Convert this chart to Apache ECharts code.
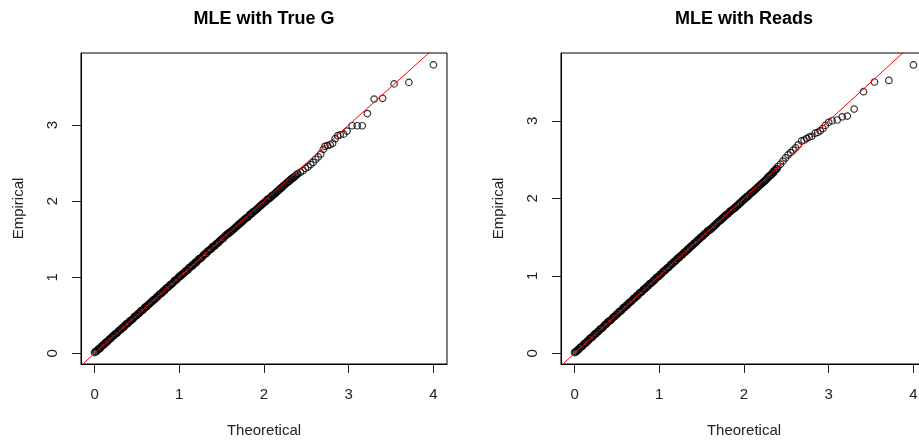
<!DOCTYPE html>
<html>
<head>
<meta charset="utf-8">
<script src="https://cdn.jsdelivr.net/npm/echarts@6/dist/echarts.min.js"></script>
<style>
html,body{margin:0;padding:0;background:#fff;}
#chart{width:919px;height:444px;}
</style>
</head>
<body>
<div id="chart"></div>
<script>
// ---- data ----
const panelTitles = ['MLE with True G', 'MLE with Reads'];
const xLabel = 'Theoretical';
const yLabel = 'Empirical';
const xTicks = [0, 1, 2, 3, 4];
const yTicks = [0, 1, 2, 3];

// dense part of the sample (shared theoretical quantiles), first set
const theoDense = [
  0.00,0.02,0.04,0.06,0.08,0.10,0.12,0.14,0.16,0.18,
  0.20,0.22,0.24,0.26,0.28,0.30,0.32,0.34,0.36,0.38,
  0.40,0.42,0.44,0.46,0.48,0.50,0.52,0.54,0.56,0.58,
  0.60,0.62,0.64,0.66,0.68,0.70,0.72,0.74,0.76,0.78,
  0.80,0.82,0.84,0.86,0.88,0.90,0.92,0.94,0.96,0.98,
  1.00,1.02,1.04,1.06,1.08,1.10,1.12,1.14,1.16,1.18,
  1.20,1.22,1.24,1.26,1.28,1.30,1.32,1.34,1.36,1.38,
  1.40,1.42,1.44,1.46,1.48,1.50,1.52,1.54,1.56,1.58,
  1.60,1.62,1.64,1.66,1.68,1.70,1.72,1.74,1.76,1.78,
  1.80,1.82,1.84,1.86,1.88,1.90,1.92,1.94,1.96,1.98,
  2.00,2.02,2.04,2.06,2.08,2.10,2.12,2.14,2.16,2.18,
  2.20,2.22,2.24,2.26,2.28,2.30,2.32,2.34,2.36,2.38
];
const empLeftDense = [
  0.01,0.03,0.05,0.06,0.09,0.11,0.13,0.15,0.17,0.19,
  0.21,0.23,0.25,0.26,0.29,0.31,0.33,0.34,0.37,0.39,
  0.40,0.43,0.44,0.46,0.49,0.50,0.52,0.55,0.56,0.58,
  0.61,0.62,0.64,0.67,0.68,0.70,0.72,0.74,0.77,0.78,
  0.80,0.82,0.85,0.86,0.88,0.90,0.92,0.95,0.96,0.98,
  1.01,1.02,1.04,1.06,1.08,1.09,1.12,1.14,1.15,1.18,
  1.19,1.22,1.24,1.25,1.28,1.30,1.31,1.34,1.36,1.37,
  1.40,1.41,1.44,1.45,1.48,1.50,1.51,1.54,1.56,1.57,
  1.59,1.61,1.63,1.65,1.67,1.69,1.71,1.73,1.75,1.77,
  1.78,1.80,1.83,1.84,1.86,1.88,1.90,1.92,1.94,1.96,
  1.98,1.99,2.02,2.03,2.05,2.07,2.09,2.11,2.13,2.15,
  2.17,2.19,2.21,2.23,2.25,2.26,2.29,2.31,2.32,2.34
];
const empRightDense = [
  0.01,0.02,0.04,0.07,0.08,0.10,0.13,0.14,0.16,0.19,
  0.20,0.22,0.25,0.26,0.28,0.31,0.32,0.34,0.37,0.38,
  0.41,0.42,0.44,0.47,0.48,0.50,0.53,0.54,0.56,0.59,
  0.60,0.62,0.65,0.66,0.68,0.71,0.72,0.74,0.77,0.78,
  0.80,0.83,0.84,0.86,0.89,0.90,0.92,0.94,0.97,0.98,
  1.00,1.02,1.05,1.06,1.08,1.10,1.12,1.15,1.16,1.18,
  1.20,1.23,1.24,1.26,1.28,1.30,1.32,1.34,1.36,1.38,
  1.40,1.42,1.44,1.46,1.48,1.50,1.52,1.54,1.56,1.58,
  1.59,1.61,1.63,1.65,1.67,1.70,1.71,1.73,1.75,1.77,
  1.79,1.81,1.83,1.85,1.86,1.88,1.90,1.92,1.94,1.96,
  1.98,2.00,2.02,2.04,2.06,2.08,2.10,2.12,2.14,2.16,
  2.18,2.20,2.22,2.24,2.27,2.29,2.31,2.34,2.36,2.38
];

// dense part, second set (interleaved quantiles)
const theoDense2 = [
  0.01,0.03,0.05,0.07,0.09,0.11,0.13,0.15,0.17,0.19,
  0.21,0.23,0.25,0.27,0.29,0.31,0.33,0.35,0.37,0.39,
  0.41,0.43,0.45,0.47,0.49,0.51,0.53,0.55,0.57,0.59,
  0.61,0.63,0.65,0.67,0.69,0.71,0.73,0.75,0.77,0.79,
  0.81,0.83,0.85,0.87,0.89,0.91,0.93,0.95,0.97,0.99,
  1.01,1.03,1.05,1.07,1.09,1.11,1.13,1.15,1.17,1.19,
  1.21,1.23,1.25,1.27,1.29,1.31,1.33,1.35,1.37,1.39,
  1.41,1.43,1.45,1.47,1.49,1.51,1.53,1.55,1.57,1.59,
  1.61,1.63,1.65,1.67,1.69,1.71,1.73,1.75,1.77,1.79,
  1.81,1.83,1.85,1.87,1.89,1.91,1.93,1.95,1.97,1.99,
  2.01,2.03,2.05,2.07,2.09,2.11,2.13,2.15,2.17,2.19,
  2.21,2.23,2.25,2.27,2.29,2.31,2.33,2.35,2.37,2.39
];
const empLeftDense2 = [
  0.02,0.03,0.06,0.07,0.10,0.11,0.14,0.15,0.18,0.19,
  0.22,0.23,0.26,0.27,0.30,0.31,0.34,0.35,0.38,0.39,
  0.42,0.43,0.45,0.48,0.49,0.52,0.53,0.56,0.57,0.60,
  0.61,0.64,0.65,0.67,0.70,0.71,0.74,0.75,0.78,0.79,
  0.82,0.83,0.86,0.87,0.90,0.91,0.93,0.96,0.97,1.00,
  1.01,1.04,1.05,1.08,1.09,1.12,1.13,1.16,1.17,1.20,
  1.21,1.24,1.25,1.27,1.30,1.31,1.34,1.35,1.37,1.40,
  1.41,1.43,1.45,1.47,1.49,1.51,1.53,1.55,1.57,1.59,
  1.60,1.62,1.64,1.66,1.68,1.70,1.72,1.74,1.76,1.78,
  1.79,1.82,1.83,1.86,1.87,1.89,1.91,1.93,1.95,1.97,
  1.99,2.01,2.03,2.04,2.07,2.08,2.10,2.12,2.14,2.16,
  2.18,2.20,2.22,2.24,2.26,2.28,2.29,2.31,2.33,2.35
];
const empRightDense2 = [
  0.02,0.04,0.05,0.08,0.09,0.12,0.13,0.16,0.17,0.20,
  0.21,0.24,0.25,0.28,0.29,0.32,0.33,0.36,0.37,0.40,
  0.42,0.43,0.46,0.47,0.50,0.51,0.54,0.55,0.58,0.59,
  0.62,0.63,0.66,0.67,0.70,0.71,0.74,0.75,0.78,0.79,
  0.82,0.83,0.86,0.87,0.90,0.91,0.94,0.95,0.98,0.99,
  1.02,1.03,1.06,1.07,1.10,1.11,1.14,1.15,1.18,1.19,
  1.22,1.23,1.26,1.27,1.30,1.31,1.34,1.35,1.38,1.39,
  1.42,1.43,1.46,1.47,1.50,1.51,1.54,1.55,1.58,1.59,
  1.61,1.63,1.65,1.67,1.69,1.71,1.73,1.75,1.77,1.79,
  1.80,1.83,1.84,1.86,1.88,1.90,1.92,1.94,1.96,1.98,
  2.00,2.02,2.03,2.06,2.07,2.09,2.11,2.13,2.15,2.17,
  2.19,2.21,2.23,2.25,2.27,2.29,2.31,2.33,2.36,2.38
];

// upper tail, read point by point
const theoLeftTail = [2.40,2.43,2.46,2.49,2.52,2.55,2.58,2.61,2.64,2.67,2.70,2.72,2.75,2.78,2.81,2.84,2.87,2.90,2.94,2.98,3.04,3.10,3.16,3.22,3.30,3.40,3.535,3.71,4.00];
const empLeftTail  = [2.36,2.38,2.40,2.43,2.45,2.48,2.51,2.55,2.58,2.62,2.68,2.72,2.73,2.74,2.76,2.82,2.86,2.87,2.88,2.92,2.99,2.99,2.99,3.15,3.34,3.35,3.54,3.56,3.79];
const theoRightTail = [2.40,2.43,2.46,2.49,2.52,2.55,2.58,2.61,2.64,2.68,2.71,2.74,2.77,2.80,2.84,2.87,2.90,2.93,2.96,3.00,3.04,3.10,3.16,3.22,3.30,3.41,3.54,3.71,4.00];
const empRightTail  = [2.41,2.44,2.48,2.52,2.56,2.59,2.62,2.65,2.69,2.74,2.75,2.77,2.79,2.80,2.84,2.85,2.87,2.90,2.94,2.98,3.00,3.01,3.05,3.06,3.15,3.375,3.50,3.52,3.72];

// reference line y = x (extends past the axes, clipped by the plot area)
const refLine = [-1, 5];

// axis extents (R's 4% padding)
const xRange = [-0.16, 4.16];
const yRangeLeft = [-0.14, 3.946];
const yRangeRight = [-0.138, 3.874];

// ---- build ----
function zip(a, b) { return a.map((v, i) => [v, b[i]]); }
const leftPts = zip(theoDense, empLeftDense)
  .concat(zip(theoDense2, empLeftDense2))
  .concat(zip(theoLeftTail, empLeftTail));
const rightPts = zip(theoDense, empRightDense)
  .concat(zip(theoDense2, empRightDense2))
  .concat(zip(theoRightTail, empRightTail));
const linePts = refLine.map(v => [v, v]);

const FONT = '"Liberation Sans", Arial, sans-serif';
const grids = [
  { left: 81, top: 53, width: 366, height: 311 },
  { left: 561, top: 53, width: 366, height: 311 }
];
const titleCenters = [259, 739];
const yRanges = [yRangeLeft, yRangeRight];

const option = {
  animation: false,
  backgroundColor: '#ffffff',
  title: panelTitles.map((t, i) => ({
    text: t,
    left: titleCenters[i],
    top: 5,
    textAlign: 'center',
    textStyle: { fontFamily: FONT, fontSize: 18, fontWeight: 'bold', color: '#000' }
  })),
  grid: grids.map(g => Object.assign({
    show: true, borderColor: '#000', borderWidth: 1, backgroundColor: 'transparent',
    containLabel: false, outerBoundsMode: 'none'
  }, g)),
  xAxis: grids.map((g, i) => ({
    type: 'value', gridIndex: i, min: xRange[0], max: xRange[1],
    name: xLabel, nameLocation: 'middle', nameGap: 59,
    nameTextStyle: { fontFamily: FONT, fontSize: 15, color: '#222' },
    axisLine: { show: true, onZero: false, lineStyle: { color: '#000', width: 1 } },
    axisTick: { show: true, length: 9, customValues: xTicks, lineStyle: { color: '#222', width: 1 } },
    axisLabel: { customValues: xTicks, margin: 23, fontFamily: FONT, fontSize: 15, color: '#222' },
    splitLine: { show: false }
  })),
  yAxis: grids.map((g, i) => ({
    type: 'value', gridIndex: i, min: yRanges[i][0], max: yRanges[i][1],
    name: yLabel, nameLocation: 'middle', nameGap: 55, nameRotate: 90,
    nameTextStyle: { fontFamily: FONT, fontSize: 15, color: '#222' },
    axisLine: { show: true, onZero: false, lineStyle: { color: '#000', width: 1 } },
    axisTick: { show: true, length: 9, customValues: yTicks, lineStyle: { color: '#222', width: 1 } },
    axisLabel: { customValues: yTicks, rotate: 90, margin: 21, fontFamily: FONT, fontSize: 15, color: '#222' },
    splitLine: { show: false }
  })),
  series: [
    { type: 'scatter', xAxisIndex: 0, yAxisIndex: 0, data: leftPts, symbol: 'circle', symbolSize: 6.5,
      itemStyle: { color: 'rgba(0,0,0,0)', borderColor: '#000', borderWidth: 1.2 }, silent: true },
    { type: 'scatter', xAxisIndex: 1, yAxisIndex: 1, data: rightPts, symbol: 'circle', symbolSize: 6.5,
      itemStyle: { color: 'rgba(0,0,0,0)', borderColor: '#000', borderWidth: 1.2 }, silent: true },
    { type: 'line', xAxisIndex: 0, yAxisIndex: 0, data: linePts, showSymbol: false, clip: true,
      lineStyle: { color: '#ff0000', width: 1 }, z: 5, silent: true },
    { type: 'line', xAxisIndex: 1, yAxisIndex: 1, data: linePts, showSymbol: false, clip: true,
      lineStyle: { color: '#ff0000', width: 1 }, z: 5, silent: true }
  ]
};

const chart = echarts.init(document.getElementById('chart'), null, { renderer: 'canvas' });
chart.setOption(option);
</script>
</body>
</html>
